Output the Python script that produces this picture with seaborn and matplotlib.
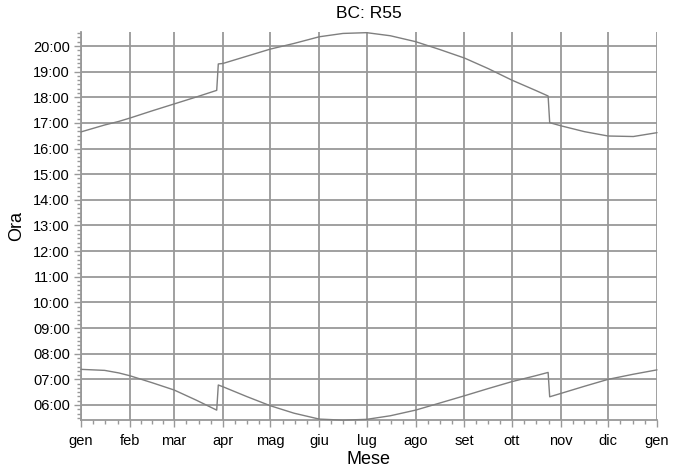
import matplotlib
matplotlib.use("Agg")
import matplotlib.pyplot as plt
import numpy as np
import pandas as pd
import seaborn as sns

# day of year (0 = 1 Jan) and times in decimal hours
days = [0, 15, 24, 31, 45, 59, 73, 86, 87, 90, 105, 120, 135, 151, 166, 181, 196, 212,
        227, 243, 258, 273, 288, 296, 297, 304, 319, 334, 350, 365]
sunset = [16.65, 16.92, 17.06, 17.19, 17.47, 17.74, 18.01, 18.27, 19.30, 19.32, 19.60, 19.88,
          20.10, 20.36, 20.49, 20.52, 20.40, 20.17, 19.87, 19.53, 19.12, 18.67, 18.27, 18.05,
          17.01, 16.89, 16.66, 16.49, 16.47, 16.62]
sunrise = [7.39, 7.35, 7.25, 7.14, 6.87, 6.585, 6.19, 5.80, 6.78, 6.71, 6.33, 5.97,
           5.68, 5.45, 5.41, 5.44, 5.58, 5.80, 6.07, 6.36, 6.64, 6.91, 7.14, 7.27,
           6.32, 6.45, 6.73, 7.00, 7.20, 7.37]

month_starts = [0, 31, 59, 90, 120, 151, 181, 212, 243, 273, 304, 334, 365]
month_labels = ["gen", "feb", "mar", "apr", "mag", "giu", "lug", "ago", "set", "ott", "nov", "dic", "gen"]
hour_ticks = list(range(6, 21))
hour_labels = ["%02d:00" % h for h in hour_ticks]

sns.set_style("white")
plt.rcParams["font.family"] = ["Liberation Sans", "DejaVu Sans"]
plt.rcParams["text.color"] = "black"
plt.rcParams["axes.labelcolor"] = "black"
plt.rcParams["xtick.labelcolor"] = "black"
plt.rcParams["ytick.labelcolor"] = "black"

df = pd.DataFrame({"giorno": days + days,
                   "ora": sunset + sunrise,
                   "serie": ["tramonto"] * len(days) + ["alba"] * len(days)})

fig = plt.figure(figsize=(6.73, 4.73), dpi=100)
ax = fig.add_axes([81 / 673, 53 / 473, 576 / 673, 388 / 473])

sns.lineplot(data=df, x="giorno", y="ora", units="serie", estimator=None,
             color="#7f7f7f", linewidth=1.0, ax=ax, clip_on=False, zorder=3)

ax.set_xlim(0, 365)
ax.set_ylim(6 - 15 / 25.64, 20 + 14 / 25.64)

ax.set_xticks(month_starts)
ax.set_xticklabels(month_labels, fontsize=10.5)
minor_x = []
for a, b in zip(month_starts[:-1], month_starts[1:]):
    minor_x += [a + (b - a) * k / 4 for k in (1, 2, 3)]
ax.set_xticks(minor_x, minor=True)

ax.set_yticks(hour_ticks)
ax.set_yticklabels(hour_labels, fontsize=10.5)
ax.set_yticks(np.arange(5 + 3 / 6, 20.6, 1 / 6), minor=True)

ax.grid(True, which="major", color="#999999", linewidth=1.3)
ax.set_axisbelow(True)

for s in ["top", "right"]:
    ax.spines[s].set_visible(False)
for s in ["left", "bottom"]:
    ax.spines[s].set_color("#999999")
    ax.spines[s].set_linewidth(1.3)

ax.tick_params(axis="both", which="major", direction="out", length=5, width=1, color="#999999",
               left=True, bottom=True, pad=3)
ax.tick_params(axis="x", which="major", pad=5)
ax.tick_params(axis="both", which="minor", direction="out", length=3, width=1, color="#999999",
               left=True, bottom=True)

ax.set_title("BC: R55", fontsize=12.5, pad=10)
ax.set_xlabel("Mese", fontsize=13, labelpad=2)
ax.set_ylabel("Ora", fontsize=13, labelpad=6)

fig.savefig("out.png", dpi=100)
